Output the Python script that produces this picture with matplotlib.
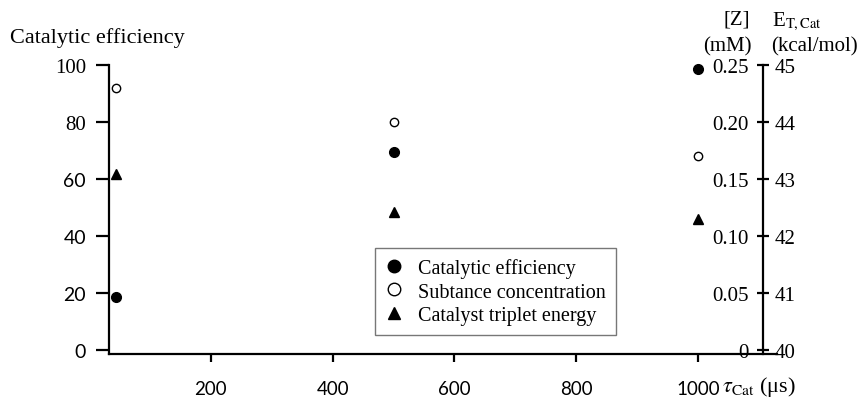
import matplotlib
matplotlib.use("Agg")
import matplotlib.pyplot as plt
from matplotlib.lines import Line2D

plt.rcParams["font.family"] = "serif"
plt.rcParams["font.serif"] = ["Liberation Serif"]
plt.rcParams["mathtext.fontset"] = "stix"

# data
tau = [45, 500, 1000]                      # tau_Cat (us)
efficiency = [18.5, 69.4, 98.6]            # catalytic efficiency
conc = [0.230, 0.200, 0.170]               # [Z] (mM)
energy = [43.09, 42.42, 42.29]             # E_T,Cat (kcal/mol)

x_ticks = [200, 400, 600, 800, 1000]
eff_ticks = [0, 20, 40, 60, 80, 100]
conc_ticks = [0, 0.05, 0.10, 0.15, 0.20, 0.25]
conc_labels = ["0", "0.05", "0.10", "0.15", "0.20", "0.25"]
energy_ticks = [40, 41, 42, 43, 44, 45]

fs = 15        # tick labels
fs_t = 16      # titles
fs_leg = 14.5
fs_sans = 13.5
lw = 1.6

fig = plt.figure(figsize=(8.67, 4.02), dpi=100)
ax = fig.add_axes([109/867, 47/402, 668/867, 289/402])
ax.set_xlim(32.8, 1129.7)
ax.set_ylim(-1.4, 100)

for s in ["top", "right"]:
    ax.spines[s].set_visible(False)
for s in ["left", "bottom"]:
    ax.spines[s].set_linewidth(lw)

ax.set_xticks(x_ticks)
ax.set_xticklabels([str(t) for t in x_ticks], family="Lato", fontsize=fs_sans)
ax.tick_params(axis="x", length=6, width=lw, pad=13)
ax.set_yticks(eff_ticks)
ax.set_yticklabels([str(t) for t in eff_ticks], fontsize=fs)
for lab in ax.get_yticklabels():
    if lab.get_text() in ("0", "20", "40", "60"):
        lab.set_family("Lato")
        lab.set_fontsize(fs_sans + 0.5)
ax.tick_params(axis="y", length=9.5, width=lw, pad=7)

# energy axis (labels right of the inner spine)
ax2 = ax.twinx()
ax2.set_ylim(40 - 1.4 / 20, 45)
for s in ["top", "left", "bottom"]:
    ax2.spines[s].set_visible(False)
ax2.spines["right"].set_position(("axes", 0.979))
ax2.spines["right"].set_linewidth(lw)
ax2.set_yticks(energy_ticks)
ax2.set_yticklabels([str(t) for t in energy_ticks], fontsize=fs)
ax2.tick_params(axis="y", direction="inout", length=9, width=lw, pad=4)

# concentration axis (labels left of the same spine)
ax3 = ax.twinx()
ax3.set_ylim(-1.4 * 0.0025, 0.25)
for s in ["top", "right", "bottom", "left"]:
    ax3.spines[s].set_visible(False)
ax3.spines["left"].set_position(("axes", 0.979))
ax3.yaxis.tick_left()
ax3.set_yticks(conc_ticks)
ax3.set_yticklabels(conc_labels, fontsize=fs)
ax3.tick_params(axis="y", length=0, pad=10)

ax.plot(tau, efficiency, "o", color="black", markersize=7, clip_on=False)
ax3.plot(tau, conc, "o", markerfacecolor="white", markeredgecolor="black",
         markeredgewidth=1, markersize=6, clip_on=False)
ax2.plot(tau, energy, "^", color="black", markersize=7, clip_on=False)

handles = [
    Line2D([], [], ls="none", marker="o", color="black", markersize=9),
    Line2D([], [], ls="none", marker="o", markerfacecolor="white",
           markeredgecolor="black", markeredgewidth=1, markersize=9),
    Line2D([], [], ls="none", marker="^", color="black", markersize=8),
]
labels = ["Catalytic efficiency", "Subtance concentration", "Catalyst triplet energy"]
leg = ax3.legend(handles, labels, loc="upper left",
                 bbox_to_anchor=(375/867, 1 - 249/402), bbox_transform=fig.transFigure,
                 fancybox=False, frameon=True, fontsize=fs_leg, handlelength=0.9,
                 handletextpad=0.75, labelspacing=0.22, borderpad=0.5,
                 borderaxespad=0)
leg.get_frame().set_edgecolor("#555555")
leg.get_frame().set_linewidth(1.0)

# axis titles
fig.text(10/867, 1 - 38/402, "Catalytic efficiency", fontsize=fs_t, ha="left", va="center")
fig.text(737/867, 1 - 20/402, "[Z]", fontsize=fs, ha="center", va="center")
fig.text(727/867, 1 - 47/402, "(mM)", fontsize=fs, ha="center", va="center")
fig.text(772/867, 1 - 22/402, r"E$_{\rm T,Cat}$", fontsize=fs, ha="left", va="center")
fig.text(771/867, 1 - 47/402, "(kcal/mol)", fontsize=fs, ha="left", va="center")
fig.text(722/867, 1 - 387/402, r"$\tau_{\rm Cat}$ (μs)", fontsize=fs + 1,
         ha="left", va="center")

fig.savefig("out.png", dpi=100)
